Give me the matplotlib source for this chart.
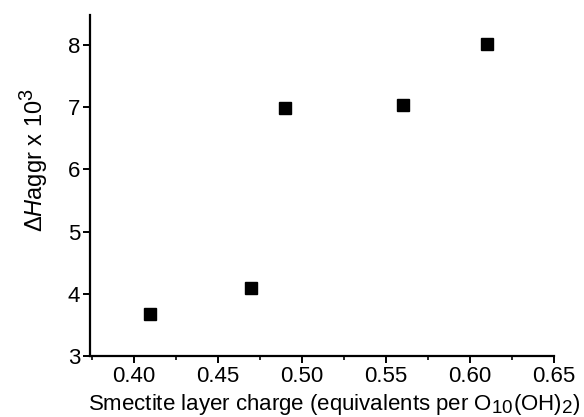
import matplotlib
matplotlib.use('Agg')
import matplotlib.pyplot as plt
import matplotlib._mathtext as mathtext_internals
from matplotlib.ticker import MultipleLocator, FormatStrFormatter

# layer charge vs aggregation enthalpy
layer_charge = [0.41, 0.47, 0.49, 0.56, 0.61]
dH_aggr = [3.68, 4.10, 6.98, 7.03, 8.01]

plt.rcParams['font.family'] = ['Liberation Sans', 'DejaVu Sans']
plt.rcParams['mathtext.fontset'] = 'custom'
plt.rcParams['mathtext.rm'] = 'Liberation Sans'
plt.rcParams['mathtext.it'] = 'Liberation Sans:italic'
# bigger sub/superscripts than the mathtext default
mathtext_internals.SHRINK_FACTOR = 0.85

fig = plt.figure(figsize=(5.84, 4.17), dpi=100)
ax = fig.add_axes([0.154, 0.146, 0.795, 0.818])

ax.plot(layer_charge, dH_aggr, 's', color='black', markersize=9.2)

ax.set_xlim(0.374, 0.65)
ax.set_ylim(3, 8.48)
ax.xaxis.set_major_locator(MultipleLocator(0.05))
ax.xaxis.set_minor_locator(MultipleLocator(0.025))
ax.yaxis.set_major_locator(MultipleLocator(1))
ax.xaxis.set_major_formatter(FormatStrFormatter('%.2f'))

for side in ['top', 'right']:
    ax.spines[side].set_visible(False)
for side in ['left', 'bottom']:
    ax.spines[side].set_linewidth(1.6)

ax.tick_params(which='major', length=5, width=1.4, labelsize=16, pad=2)
ax.tick_params(which='minor', length=3, width=1.2)

ax.set_xlabel(r'Smectite layer charge (equivalents per O$_{10}$(OH)$_{2}$)', fontsize=16)
ax.xaxis.set_label_coords(0.527, -0.105)
ax.set_ylabel(r'$\Delta\mathit{H}$aggr x 10$^{3}$', fontsize=17)
ax.yaxis.set_label_coords(-0.087, 0.575)

fig.savefig('out.png', dpi=100)
